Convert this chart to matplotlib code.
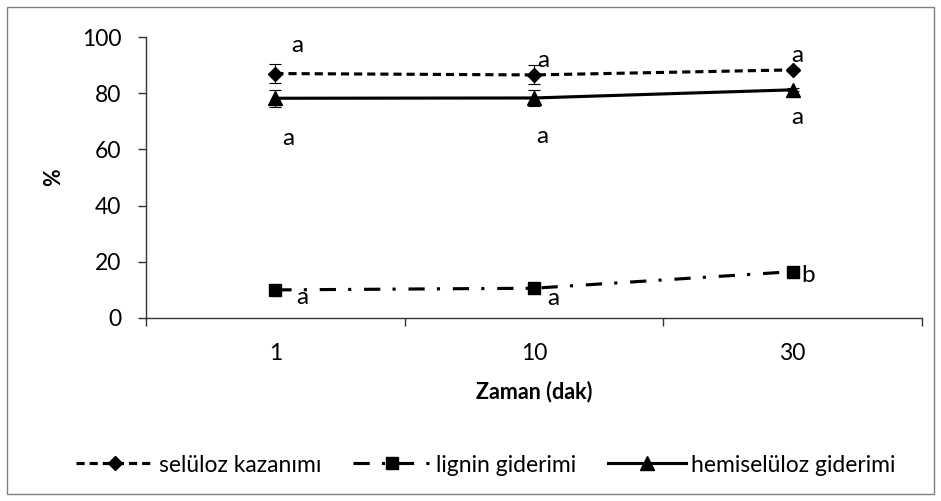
import numpy as np
import matplotlib
matplotlib.use('Agg')
import matplotlib.pyplot as plt
from matplotlib.patches import Rectangle
from matplotlib.lines import Line2D

plt.rcParams['font.family'] = ['Lato', 'DejaVu Sans']

# Time points (minutes) and measured percentages
times = ['1', '10', '30']
seluloz = [87.0, 86.5, 88.3]
seluloz_err = [3.5, 3.4, 0.5]
lignin = [10.0, 10.6, 16.5]
hemiseluloz = [78.2, 78.3, 81.2]
hemiseluloz_err = [3.1, 3.0, 0.5]

# Significance letters for each point
seluloz_letters = ['a', 'a', 'a']
lignin_letters = ['a', 'a', 'b']
hemi_letters = ['a', 'a', 'a']

series_names = ['selüloz kazanımı', 'lignin giderimi', 'hemiselüloz giderimi']

x = np.arange(len(times))

fig = plt.figure(figsize=(9.41, 5.01), dpi=100)
ax = fig.add_axes([146/941, 1 - 318/501, 776/941, 281/501])

# Outer chart border
fig.patches.append(Rectangle((7/941, 7/501), 927/941, 487/501, transform=fig.transFigure,
                             fill=False, edgecolor='#808080', linewidth=1))

lw = 2.25
sel_style = dict(color='black', linewidth=lw, dashes=(2.6, 1.6), marker='D', markersize=7.5)
lig_style = dict(color='black', linewidth=lw, dashes=(5.2, 3.9, 1, 4.1), marker='s', markersize=8.5)
hemi_style = dict(color='black', linewidth=lw, marker='^', markersize=10)
err_style = dict(ecolor='black', elinewidth=0.8, capsize=4.5, capthick=0.8)

ax.errorbar(x, seluloz, yerr=seluloz_err, zorder=3, **sel_style, **err_style)
ax.plot(x, lignin, zorder=3, **lig_style)
ax.errorbar(x, hemiseluloz, yerr=hemiseluloz_err, zorder=3, **hemi_style, **err_style)

# Letters next to the points
sel_off = [(22, 28), (9, 14), (5, 14)]
hemi_off = [(13, -40), (8, -39), (5, -28)]
lig_off = [(27, -8), (19, -10), (15, -4)]
for i in range(len(times)):
    ax.annotate(seluloz_letters[i], (x[i], seluloz[i]), xytext=sel_off[i],
                textcoords='offset pixels', ha='center', va='center', fontsize=17.5)
    ax.annotate(hemi_letters[i], (x[i], hemiseluloz[i]), xytext=hemi_off[i],
                textcoords='offset pixels', ha='center', va='center', fontsize=17.5)
    ax.annotate(lignin_letters[i], (x[i], lignin[i]), xytext=lig_off[i],
                textcoords='offset pixels', ha='center', va='center', fontsize=17.5)

ax.set_xlim(-0.5, 2.5)
ax.set_ylim(0, 100)
ax.set_yticks(np.arange(0, 101, 20))
ax.set_xticks([-0.5, 0.5, 1.5, 2.5])
ax.set_xticklabels([])
ax.set_xticks(x, minor=True)
ax.set_xticklabels(times, minor=True)
ax.tick_params(axis='x', which='major', direction='out', length=5.8, width=1, color='#333333')
ax.tick_params(axis='x', which='minor', length=0, pad=18, labelsize=16.5)
ax.tick_params(axis='y', direction='out', length=5.8, width=1, color='#333333', pad=12,
               labelsize=16.5)

for side in ['top', 'right']:
    ax.spines[side].set_visible(False)
for side in ['left', 'bottom']:
    ax.spines[side].set_color('#333333')
    ax.spines[side].set_linewidth(1)

ax.set_xlabel('Zaman (dak)', fontsize=15.5, fontweight='bold')
ax.xaxis.set_label_coords(0.5, -0.222)
ax.set_ylabel('%', fontsize=15.5, fontweight='bold')
ax.yaxis.set_label_coords(-0.105, 0.5)

handles = [Line2D([], [], **sel_style), Line2D([], [], **lig_style), Line2D([], [], **hemi_style)]
fig.legend(handles, series_names, loc='center', bbox_to_anchor=(0.516, 1 - 465/501), ncol=3,
           frameon=False, fontsize=16.5, handlelength=3.4, handletextpad=0.2,
           columnspacing=1.4)

fig.savefig('out.png', dpi=100)
